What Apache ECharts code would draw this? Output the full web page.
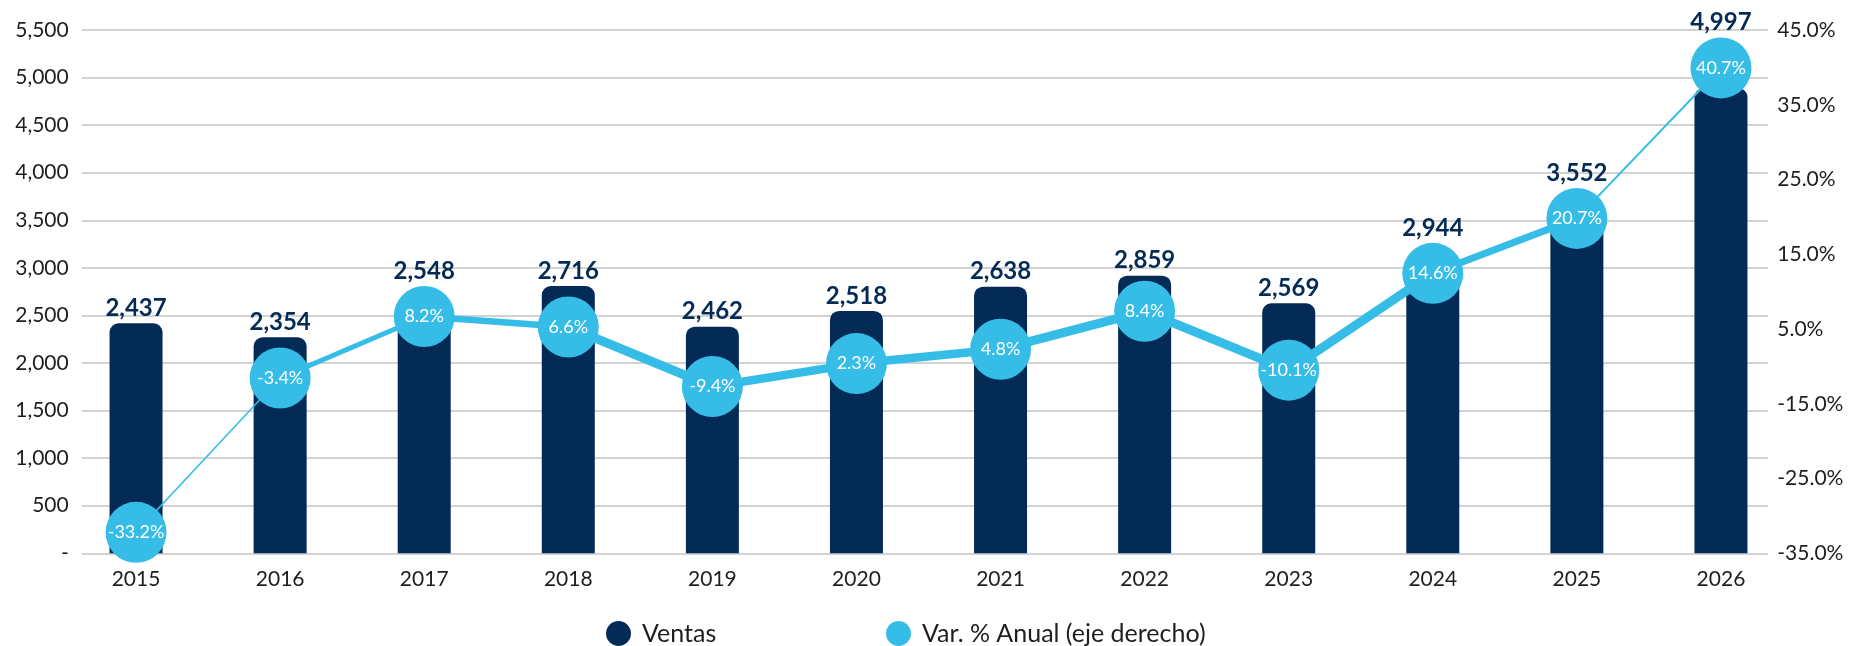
<!DOCTYPE html>
<html>
<head>
<meta charset="utf-8">
<script src="https://cdn.jsdelivr.net/npm/echarts@6/dist/echarts.min.js"></script>
<style>
html,body{margin:0;padding:0;background:#ffffff;}
#chart{width:1861px;height:646px;}
</style>
</head>
<body>
<div id="chart"></div>
<script>
// ---------- data ----------
const anios = ['2015','2016','2017','2018','2019','2020','2021','2022','2023','2024','2025','2026'];
// printed labels
const ventasEtiqueta = [2437, 2354, 2548, 2716, 2462, 2518, 2638, 2859, 2569, 2944, 3552, 4997];
const varAnualEtiqueta = [-33.2, -3.4, 8.2, 6.6, -9.4, 2.3, 4.8, 8.4, -10.1, 14.6, 20.7, 40.7];
// values as drawn in the picture (bar heights on left axis, point heights on right axis)
const ventasDibujada = [2417, 2270, 2548, 2809, 2382, 2547, 2802, 2918, 2628, 2944, 3552, 4890];
const varAnualDibujada = [-31.8, -8.2, 1.2, -0.4, -9.5, -6.0, -3.8, 2.0, -7.0, 7.8, 16.2, 39.2];
// tick labels
const ticksIzq = ['-', '500', '1,000', '1,500', '2,000', '2,500', '3,000', '3,500', '4,000', '4,500', '5,000', '5,500'];
const ticksDer = ['-35.0%', '-25.0%', '-15.0%', '5.0%', '15.0%', '25.0%', '35.0%', '45.0%'];

// ---------- styles ----------
const NAVY = '#032B55';
const BLUE = '#35BDE8';
const GRIS = '#C4C4C4';
const TEXTO = '#1E1E1E';
const FUENTE = 'Lato';
const TAM_CIRCULO = 61;
const GROSOR_TRAMO = [1.5, 5, 6.5, 9, 8.5, 8.5, 9, 9, 9, 7, 2];

const chart = echarts.init(document.getElementById('chart'), null, {renderer: 'canvas'});

const tramos = GROSOR_TRAMO.map((w, i) => ({
  type: 'line',
  xAxisIndex: 0,
  yAxisIndex: 1,
  data: varAnualDibujada.map((v, j) => (j === i || j === i + 1) ? v : null),
  symbol: 'none',
  silent: true,
  connectNulls: false,
  lineStyle: {color: BLUE, width: w, cap: 'round'},
  z: 3
}));

const option = {
  animation: false,
  backgroundColor: '#ffffff',
  textStyle: {fontFamily: FUENTE},
  grid: [
    {left: 64, right: 68, top: 30, bottom: 92.7, containLabel: false, outerBoundsMode: 'none'},
    {left: 81.7, right: 92.7, top: 30, bottom: 92.7, containLabel: false, outerBoundsMode: 'none'}
  ],
  legend: [
    {
      data: ['Ventas'],
      left: 606, top: 621, padding: 0,
      icon: 'circle', itemWidth: 37, itemHeight: 25,
      textStyle: {fontFamily: FUENTE, fontSize: 25, color: TEXTO},
      selectedMode: false
    },
    {
      data: ['Var. % Anual (eje derecho)'],
      left: 886, top: 621, padding: 0,
      icon: 'circle', itemWidth: 37, itemHeight: 25,
      textStyle: {fontFamily: FUENTE, fontSize: 25, color: TEXTO},
      selectedMode: false
    }
  ],
  xAxis: [
    {
      gridIndex: 0, type: 'category', data: anios, boundaryGap: true,
      axisLine: {show: false}, axisTick: {show: false},
      axisLabel: {margin: 15, fontFamily: FUENTE, fontSize: 21, color: TEXTO},
      splitLine: {show: false}
    },
    {
      gridIndex: 1, type: 'category', data: anios, show: false
    }
  ],
  yAxis: [
    {gridIndex: 0, type: 'value', min: 0, max: 5500, interval: 500, show: false, splitLine: {show: false}},
    {gridIndex: 0, type: 'value', min: -35, max: 45, interval: 10, show: false, splitLine: {show: false}},
    {
      gridIndex: 1, type: 'value', position: 'left', min: 0, max: 5500, interval: 500,
      axisLine: {show: false}, axisTick: {show: false},
      axisLabel: {
        margin: 13, fontFamily: FUENTE, fontSize: 21, color: TEXTO,
        formatter: (v) => ticksIzq[Math.round(v / 500)]
      },
      splitLine: {show: true, lineStyle: {color: GRIS, width: 1.5}}
    },
    {
      gridIndex: 1, type: 'value', position: 'right', min: 0, max: 7, interval: 1,
      axisLine: {show: false}, axisTick: {show: false},
      axisLabel: {
        margin: 9, fontFamily: FUENTE, fontSize: 21, color: TEXTO,
        formatter: (v) => ticksDer[Math.round(v)]
      },
      splitLine: {show: false}
    }
  ],
  series: [
    {
      id: 'ventas',
      name: 'Ventas',
      type: 'bar',
      xAxisIndex: 0, yAxisIndex: 0,
      data: ventasDibujada,
      barWidth: 53,
      itemStyle: {color: NAVY, borderRadius: [9, 9, 0, 0]},
      label: {
        show: true, position: 'top', distance: 3,
        fontFamily: FUENTE, fontSize: 24, fontWeight: 'bold', color: NAVY,
        formatter: (p) => ventasEtiqueta[p.dataIndex].toLocaleString('en-US')
      },
      z: 2
    },
    ...tramos,
    {
      id: 'var',
      name: 'Var. % Anual (eje derecho)',
      type: 'scatter',
      xAxisIndex: 0, yAxisIndex: 1,
      data: varAnualDibujada,
      symbol: 'circle',
      symbolSize: TAM_CIRCULO,
      itemStyle: {color: BLUE, opacity: 1},
      label: {
        show: true, position: 'inside',
        fontFamily: FUENTE, fontSize: 18, color: '#ffffff',
        formatter: (p) => varAnualEtiqueta[p.dataIndex].toFixed(1) + '%'
      },
      z: 4
    }
  ]
};

chart.setOption(option);

// lift each sales label above its circle when the circle covers the bar top
const datosBarras = ventasDibujada.map((v, i) => {
  const topeBarra = chart.convertToPixel({seriesId: 'ventas'}, [anios[i], v])[1];
  const centro = chart.convertToPixel({seriesId: 'var'}, [anios[i], varAnualDibujada[i]])[1];
  const topeCirculo = centro - TAM_CIRCULO / 2;
  const desplaz = Math.min(0, topeCirculo - topeBarra);
  return {value: v, label: {offset: [0, desplaz]}};
});
chart.setOption({series: [{id: 'ventas', data: datosBarras}]});
</script>
</body>
</html>
